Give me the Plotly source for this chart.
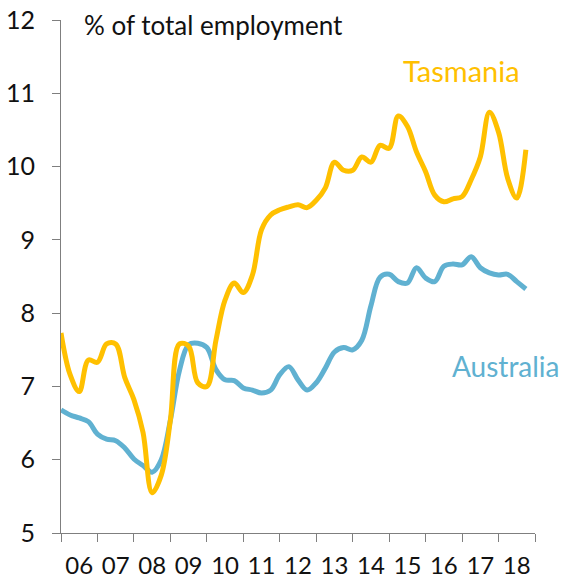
import plotly.graph_objects as go

# Quarterly observations, March 2006 to December 2018
start_year = 2006
n_quarters = 52
quarters = [start_year + q / 4 for q in range(n_quarters)]

# Share of total employment, per cent
tasmania = [7.73, 7.16, 6.93, 7.36, 7.33, 7.58, 7.58, 7.12, 6.82, 6.37,
            5.55, 5.79, 6.54, 7.58, 7.55, 7.05, 7.00, 7.63, 8.18, 8.41,
            8.28, 8.52, 9.14, 9.34, 9.41, 9.45, 9.48, 9.44, 9.54, 9.71,
            10.06, 9.95, 9.95, 10.13, 10.06, 10.29, 10.25, 10.69, 10.55, 10.20,
            9.93, 9.61, 9.52, 9.56, 9.59, 9.82, 10.13, 10.74, 10.47, 9.84,
            9.57, 10.23]
australia = [6.68, 6.61, 6.57, 6.52, 6.35, 6.28, 6.26, 6.16, 6.01, 5.92,
             5.83, 6.00, 6.54, 7.22, 7.57, 7.59, 7.53, 7.23, 7.09, 7.08,
             6.98, 6.95, 6.91, 6.95, 7.16, 7.27, 7.09, 6.95, 7.05, 7.25,
             7.47, 7.53, 7.50, 7.63, 8.10, 8.49, 8.53, 8.43, 8.41, 8.62,
             8.48, 8.43, 8.64, 8.67, 8.66, 8.77, 8.62, 8.55, 8.52, 8.53,
             8.43, 8.33]

year_labels = ["06", "07", "08", "09", "10", "11", "12",
               "13", "14", "15", "16", "17", "18"]
year_bounds = list(range(2006, 2020))
label_pos = [y + 0.5 for y in year_bounds[:-1]]

ORANGE = "#FFC000"
BLUE = "#60B1D1"
FONT = "Lato"

fig = go.Figure()
fig.add_trace(go.Scatter(x=quarters, y=australia, mode="lines",
                         line=dict(color=BLUE, width=5, shape="spline", smoothing=1.0),
                         hoverinfo="skip"))
fig.add_trace(go.Scatter(x=quarters, y=tasmania, mode="lines",
                         line=dict(color=ORANGE, width=5, shape="spline", smoothing=1.0),
                         hoverinfo="skip"))

fig.update_layout(
    width=561, height=579,
    margin=dict(l=61, r=26, t=20, b=46),
    paper_bgcolor="white", plot_bgcolor="white",
    showlegend=False,
    font=dict(family=FONT, color="#111111"),
    xaxis=dict(
        range=[2006, 2019], showgrid=False, zeroline=False, automargin=False,
        showline=True, linecolor="#7f7f7f", linewidth=1,
        tickmode="array", tickvals=label_pos, ticktext=year_labels,
        ticks="", tickfont=dict(size=24, family=FONT, color="#111111"),
        ticklabelstandoff=11,
        minor=dict(tickmode="array", tickvals=year_bounds, ticks="outside",
                   ticklen=8, tickcolor="#7f7f7f", tickwidth=1),
    ),
    yaxis=dict(
        range=[5, 12], showgrid=False, zeroline=False, automargin=False,
        showline=True, linecolor="#7f7f7f", linewidth=1,
        tickmode="array", tickvals=list(range(5, 13)),
        ticks="outside", ticklen=8, tickcolor="#7f7f7f", tickwidth=1,
        tickfont=dict(size=25, family=FONT, color="#111111"),
        ticklabelstandoff=12,
    ),
    annotations=[
        dict(text="% of total employment", xref="paper", yref="paper",
             x=0.044, y=1.025, xanchor="left", yanchor="top", showarrow=False,
             font=dict(size=26, family=FONT, color="#111111")),
        dict(text="Tasmania", xref="paper", yref="paper",
             x=0.844, y=0.901, xanchor="center", yanchor="middle", showarrow=False,
             font=dict(size=29, family=FONT, color=ORANGE)),
        dict(text="Australia", xref="paper", yref="paper",
             x=0.939, y=0.326, xanchor="center", yanchor="middle", showarrow=False,
             font=dict(size=28, family=FONT, color=BLUE)),
    ],
)

fig.write_html("out.html")
